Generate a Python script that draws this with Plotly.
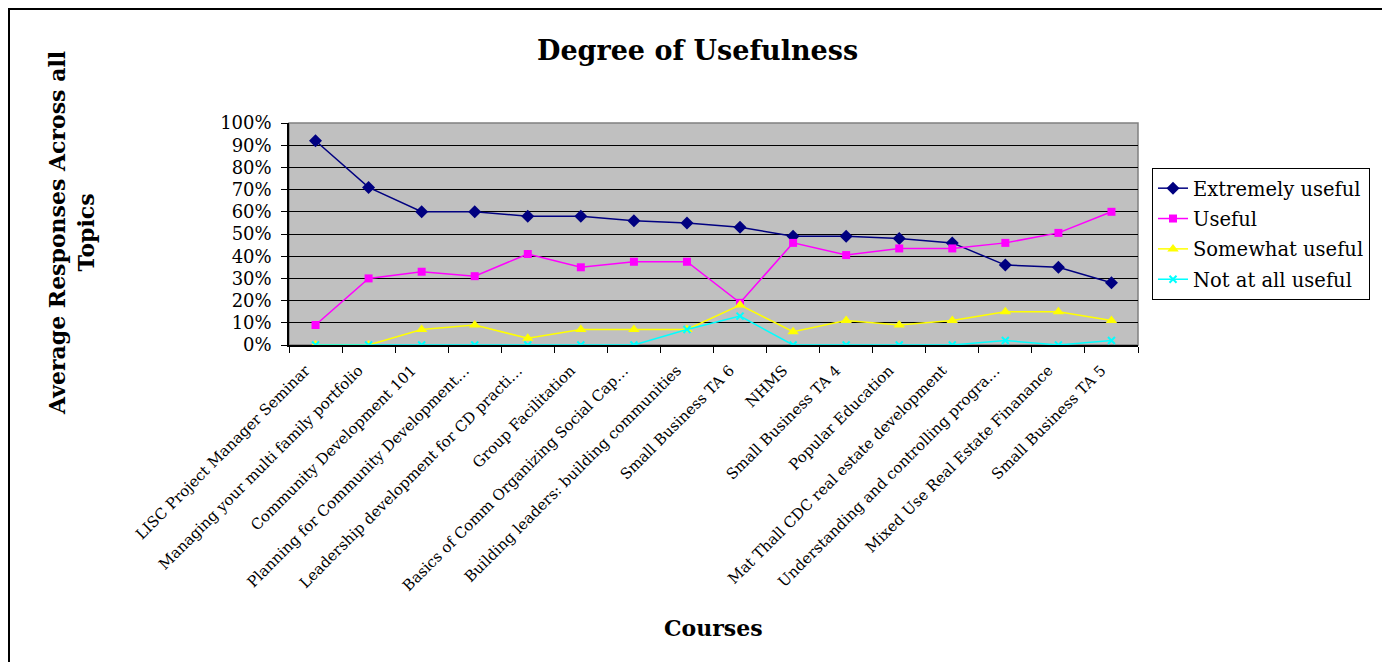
import plotly.graph_objects as go

courses = [
    "LISC Project Manager Seminar",
    "Managing your multi family portfolio",
    "Community Development 101",
    "Planning for Community Development…",
    "Leadership development for CD practi…",
    "Group Facilitation",
    "Basics of Comm Organizing Social Cap…",
    "Building leaders: building communities",
    "Small Business TA 6",
    "NHMS",
    "Small Business TA 4",
    "Popular Education",
    "Mat Thall CDC real estate development",
    "Understanding and controlling progra…",
    "Mixed Use Real Estate Finanance",
    "Small Business TA 5",
]

extremely_useful = [0.92, 0.71, 0.60, 0.60, 0.58, 0.58, 0.56, 0.55, 0.53, 0.49, 0.49, 0.48, 0.46, 0.36, 0.35, 0.28]
useful = [0.09, 0.30, 0.33, 0.31, 0.41, 0.35, 0.375, 0.375, 0.19, 0.46, 0.405, 0.435, 0.435, 0.46, 0.505, 0.60]
somewhat_useful = [0.0, 0.0, 0.07, 0.09, 0.03, 0.07, 0.07, 0.07, 0.18, 0.06, 0.11, 0.09, 0.11, 0.15, 0.15, 0.11]
not_at_all_useful = [0.0, 0.0, 0.0, 0.0, 0.0, 0.0, 0.0, 0.07, 0.13, 0.0, 0.0, 0.0, 0.0, 0.02, 0.0, 0.02]

y_ticks = [i / 10 for i in range(11)]

FONT = "DejaVu Serif, Liberation Serif, serif"

fig = go.Figure()
series = [
    ("Extremely useful", extremely_useful, "#000080", "diamond", 10),
    ("Useful", useful, "#FF00FF", "square", 8),
    ("Somewhat useful", somewhat_useful, "#FFFF00", "triangle-up", 10),
    ("Not at all useful", not_at_all_useful, "#00FFFF", "x-thin", 7),
]
for name, vals, color, sym, size in series:
    marker = dict(symbol=sym, size=size, color=color)
    if sym == "x-thin":
        marker["line"] = dict(color=color, width=2)
    fig.add_trace(go.Scatter(
        x=courses, y=vals, name=name, mode="lines+markers", legendgroup=name,
        line=dict(color=color, width=1.5), marker=marker,
    ))

# page geometry (browser body has an 8px margin)
OFF = 8
W, H = 1390, 662
L, R, T, B = 289, 1138, 123, 345   # plot area in page pixels

def px_x(p):
    return (p - L) / (R - L)

def px_y(p):
    return (B - p) / (B - T)

fig.update_layout(
    width=W - OFF, height=H - OFF,
    margin=dict(l=L - OFF, r=W - R, t=T - OFF, b=H - B),
    paper_bgcolor="white",
    plot_bgcolor="#C0C0C0",
    font=dict(family=FONT, color="black"),
    showlegend=True,
    legend=dict(
        x=px_x(1152), y=px_y(168), xanchor="left", yanchor="top",
        bordercolor="black", borderwidth=1, bgcolor="white",
        font=dict(size=19.5, family=FONT),
        tracegroupgap=2,
    ),
    xaxis=dict(
        type="category",
        showgrid=False,
        showline=True, linecolor="black", linewidth=1.5,
        ticks="outside", tickson="boundaries", ticklen=6, tickcolor="black",
        tickangle=-45,
        tickfont=dict(size=15, family=FONT),
        ticklabelstandoff=9, ticklabelshift=-10,
        range=[-0.5, len(courses) - 0.5],
    ),
    yaxis=dict(
        range=[0, 1],
        tickvals=y_ticks,
        tickformat=".0%",
        showgrid=True, gridcolor="black", gridwidth=1.2,
        showline=True, linecolor="black", linewidth=1.5,
        ticks="outside", ticklen=6, tickcolor="black",
        tickfont=dict(size=18, family=FONT),
        ticklabelstandoff=6,
        zeroline=False,
    ),
)

# plot area gray frame
fig.add_shape(type="rect", xref="paper", yref="paper", x0=0, x1=1, y0=0, y1=1,
              line=dict(color="#808080", width=1.5), layer="below")
# outer chart border
fig.add_shape(type="rect", xref="paper", yref="paper",
              x0=px_x(9), x1=px_x(1387), y0=px_y(666), y1=px_y(9),
              line=dict(color="black", width=2))

fig.add_annotation(text="<b>Degree of Usefulness</b>", xref="paper", yref="paper",
                   x=px_x(697), y=px_y(50), showarrow=False,
                   font=dict(size=27, family=FONT), xanchor="center", yanchor="middle")
fig.add_annotation(text="<b>Courses</b>", xref="paper", yref="paper",
                   x=px_x(713), y=px_y(628), showarrow=False,
                   font=dict(size=22, family=FONT), xanchor="center", yanchor="middle")
fig.add_annotation(text="<b>Average Responses Across all<br>Topics</b>", xref="paper", yref="paper",
                   x=px_x(71), y=px_y(233), showarrow=False, textangle=-90,
                   font=dict(size=22, family=FONT), xanchor="center", yanchor="middle")

fig.write_html("out.html")
